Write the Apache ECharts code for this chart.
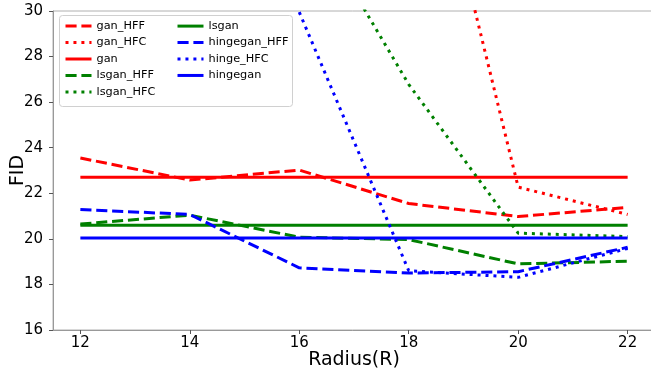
<!DOCTYPE html>
<html>
<head>
<meta charset="utf-8">
<script src="https://cdn.jsdelivr.net/npm/echarts@6/dist/echarts.min.js"></script>
<style>
  html, body { margin: 0; padding: 0; background: #fff; }
  #chart { width: 651px; height: 372px; }
</style>
</head>
<body>
<div id="chart"></div>
<script>
// FID against patch radius R for each GAN loss and filter variant
const radius = [12, 14, 16, 18, 20, 22];
const tickValues = [12, 14, 16, 18, 20, 22];

const gan_HFF      = [23.55, 22.58, 23.02, 21.55, 20.98, 21.38];
const gan_HFC      = [null, null, null, 41.9, 22.27, 21.07];
const gan          = [22.70, 22.70, 22.70, 22.70, 22.70, 22.70];
const lsgan_HFF    = [20.65, 21.04, 20.07, 19.97, 18.90, 19.02];
const lsgan_HFC    = [null, null, 34.9, 26.78, 20.25, 20.10];
const lsgan        = [20.60, 20.60, 20.60, 20.60, 20.60, 20.60];
const hingegan_HFF = [21.29, 21.07, 18.73, 18.50, 18.56, 19.63];
const hinge_HFC    = [null, null, 29.95, 18.60, 18.31, 19.58];
const hingegan     = [20.04, 20.04, 20.04, 20.04, 20.04, 20.04];

const RED = '#ff0000', GREEN = '#008000', BLUE = '#0000ff';
const DASH = [11.1, 4.8];
const DOT = [3, 4.95];

const seriesDefs = [
  ['gan_HFF', gan_HFF, RED, DASH],
  ['gan_HFC', gan_HFC, RED, DOT],
  ['gan', gan, RED, 'solid'],
  ['lsgan_HFF', lsgan_HFF, GREEN, DASH],
  ['lsgan_HFC', lsgan_HFC, GREEN, DOT],
  ['lsgan', lsgan, GREEN, 'solid'],
  ['hingegan_HFF', hingegan_HFF, BLUE, DASH],
  ['hinge_HFC', hinge_HFC, BLUE, DOT],
  ['hingegan', hingegan, BLUE, 'solid']
];

const series = seriesDefs.map(([name, vals, color, dash]) => ({
  name: name,
  type: 'line',
  data: radius.map((r, i) => [r, vals[i]]),
  symbol: 'none',
  clip: true,
  color: color,
  lineStyle: { color: color, width: 3, type: dash, cap: 'butt' },
  emphasis: { disabled: true },
  animation: false
}));

const FONT = 'DejaVu Sans';
const legendCommon = {
  orient: 'vertical',
  padding: 0,
  itemWidth: 26,
  itemHeight: 14,
  itemGap: 5.25,
  itemStyle: { opacity: 0 },
  lineStyle: { width: 3 },
  textStyle: { fontFamily: FONT, fontSize: 11.3, color: '#000' },
  selectedMode: false
};

const chart = echarts.init(document.getElementById('chart'), null, { renderer: 'canvas' });
chart.setOption({
  backgroundColor: '#fff',
  animation: false,
  grid: {
    left: 53, right: -4, top: 11, bottom: 42,
    outerBoundsMode: 'none',
    containLabel: false,
    show: true, borderColor: '#b0b0b0', borderWidth: 1, backgroundColor: 'transparent'
  },
  xAxis: {
    type: 'value',
    min: 11.5, max: 22.5,
    name: 'Radius(R)',
    nameLocation: 'middle',
    nameGap: 21,
    nameMoveOverlap: false,
    nameTextStyle: { fontFamily: FONT, fontSize: 19, color: '#000' },
    axisLine: { show: true, onZero: false, lineStyle: { color: '#999', width: 1 } },
    axisTick: { show: true, length: 4, customValues: tickValues, lineStyle: { color: '#555' } },
    axisLabel: { customValues: tickValues, margin: 6, fontFamily: FONT, fontSize: 15, color: '#000' },
    splitLine: { show: false }
  },
  yAxis: {
    type: 'value',
    min: 16, max: 30, interval: 2,
    name: 'FID',
    nameLocation: 'middle',
    nameGap: 25,
    nameMoveOverlap: false,
    nameTextStyle: { fontFamily: FONT, fontSize: 19, color: '#000' },
    axisLine: { show: true, lineStyle: { color: '#999', width: 1 } },
    axisTick: { show: true, length: 4, lineStyle: { color: '#555' } },
    axisLabel: { margin: 10, fontFamily: FONT, fontSize: 15, color: '#000' },
    splitLine: { show: false }
  },
  legend: [
    Object.assign({ left: 64, top: 20.5, data: ['gan_HFF', 'gan_HFC', 'gan', 'lsgan_HFF', 'lsgan_HFC'] }, legendCommon),
    Object.assign({ left: 176, top: 20.5, data: ['lsgan', 'hingegan_HFF', 'hinge_HFC', 'hingegan'] }, legendCommon)
  ],
  graphic: [{
    type: 'rect',
    z: 3,
    shape: { x: 59.5, y: 15.5, width: 233, height: 91, r: 3 },
    style: { fill: 'rgba(255,255,255,0.8)', stroke: '#d0d0d0', lineWidth: 1 }
  }],
  series: series
});
</script>
</body>
</html>
